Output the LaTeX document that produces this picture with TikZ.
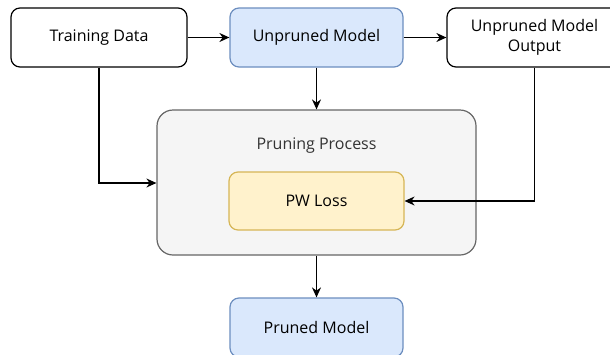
\documentclass[tikz,border=0pt]{standalone}
\usepackage{fontspec}
\setmainfont{Open Sans}
\usetikzlibrary{arrows.meta}
\definecolor{blueFill}{HTML}{DAE8FC}
\definecolor{blueLine}{HTML}{6C8EBF}
\definecolor{grayFill}{HTML}{F5F5F5}
\definecolor{grayLine}{HTML}{666666}
\definecolor{grayText}{HTML}{333333}
\definecolor{yellowFill}{HTML}{FFF2CC}
\definecolor{yellowLine}{HTML}{D6B656}
\tikzset{
  boxfont/.style={font=\fontsize{16}{19.5}\selectfont},
  box/.style={draw=black, fill=white, rounded corners=9pt, line width=1.2pt,
    minimum width=176pt, minimum height=59pt, align=center, inner sep=0pt, boxfont},
  bluebox/.style={box, draw=blueLine, fill=blueFill, minimum width=173pt},
  groupbox/.style={draw=grayLine, fill=grayFill, rounded corners=16pt, line width=1.2pt,
    minimum width=319pt, minimum height=145pt, inner sep=0pt},
  lossbox/.style={box, draw=yellowLine, fill=yellowFill, minimum width=175pt, minimum height=58pt},
  link/.style={-{Stealth[length=10pt,width=9pt]}, line width=1.2pt, black},
}
\begin{document}
\begin{tikzpicture}[x=1pt,y=-1pt]
  \useasboundingbox (0,0) rectangle (610,354);
  \clip (0,0) rectangle (610,354);
  \node[box] (data) at (99,37.5) {Training Data};
  \node[bluebox] (model) at (316.5,37.5) {Unpruned Model};
  \node[box, minimum width=175pt] (output) at (534.5,37.5) {Unpruned Model\\Output};
  \node[groupbox] (group) at (316.5,182.5) {};
  \node[boxfont, text=grayText] (grouplabel) at (316.5,146) {Pruning Process};
  \node[lossbox] (loss) at (316.5,201) {PW Loss};
  \node[bluebox] (pruned) at (316.5,327.5) {Pruned Model};

  \draw[link] (data) -- (model);
  \draw[link] (model) -- (output);
  \draw[link] (model) -- (group);
  \draw[link] (data.south) |- (group.west |- 0,183);
  \draw[link] (output.south) |- (loss.east);
  \draw[link] (group) -- (pruned);
\end{tikzpicture}
\end{document}
